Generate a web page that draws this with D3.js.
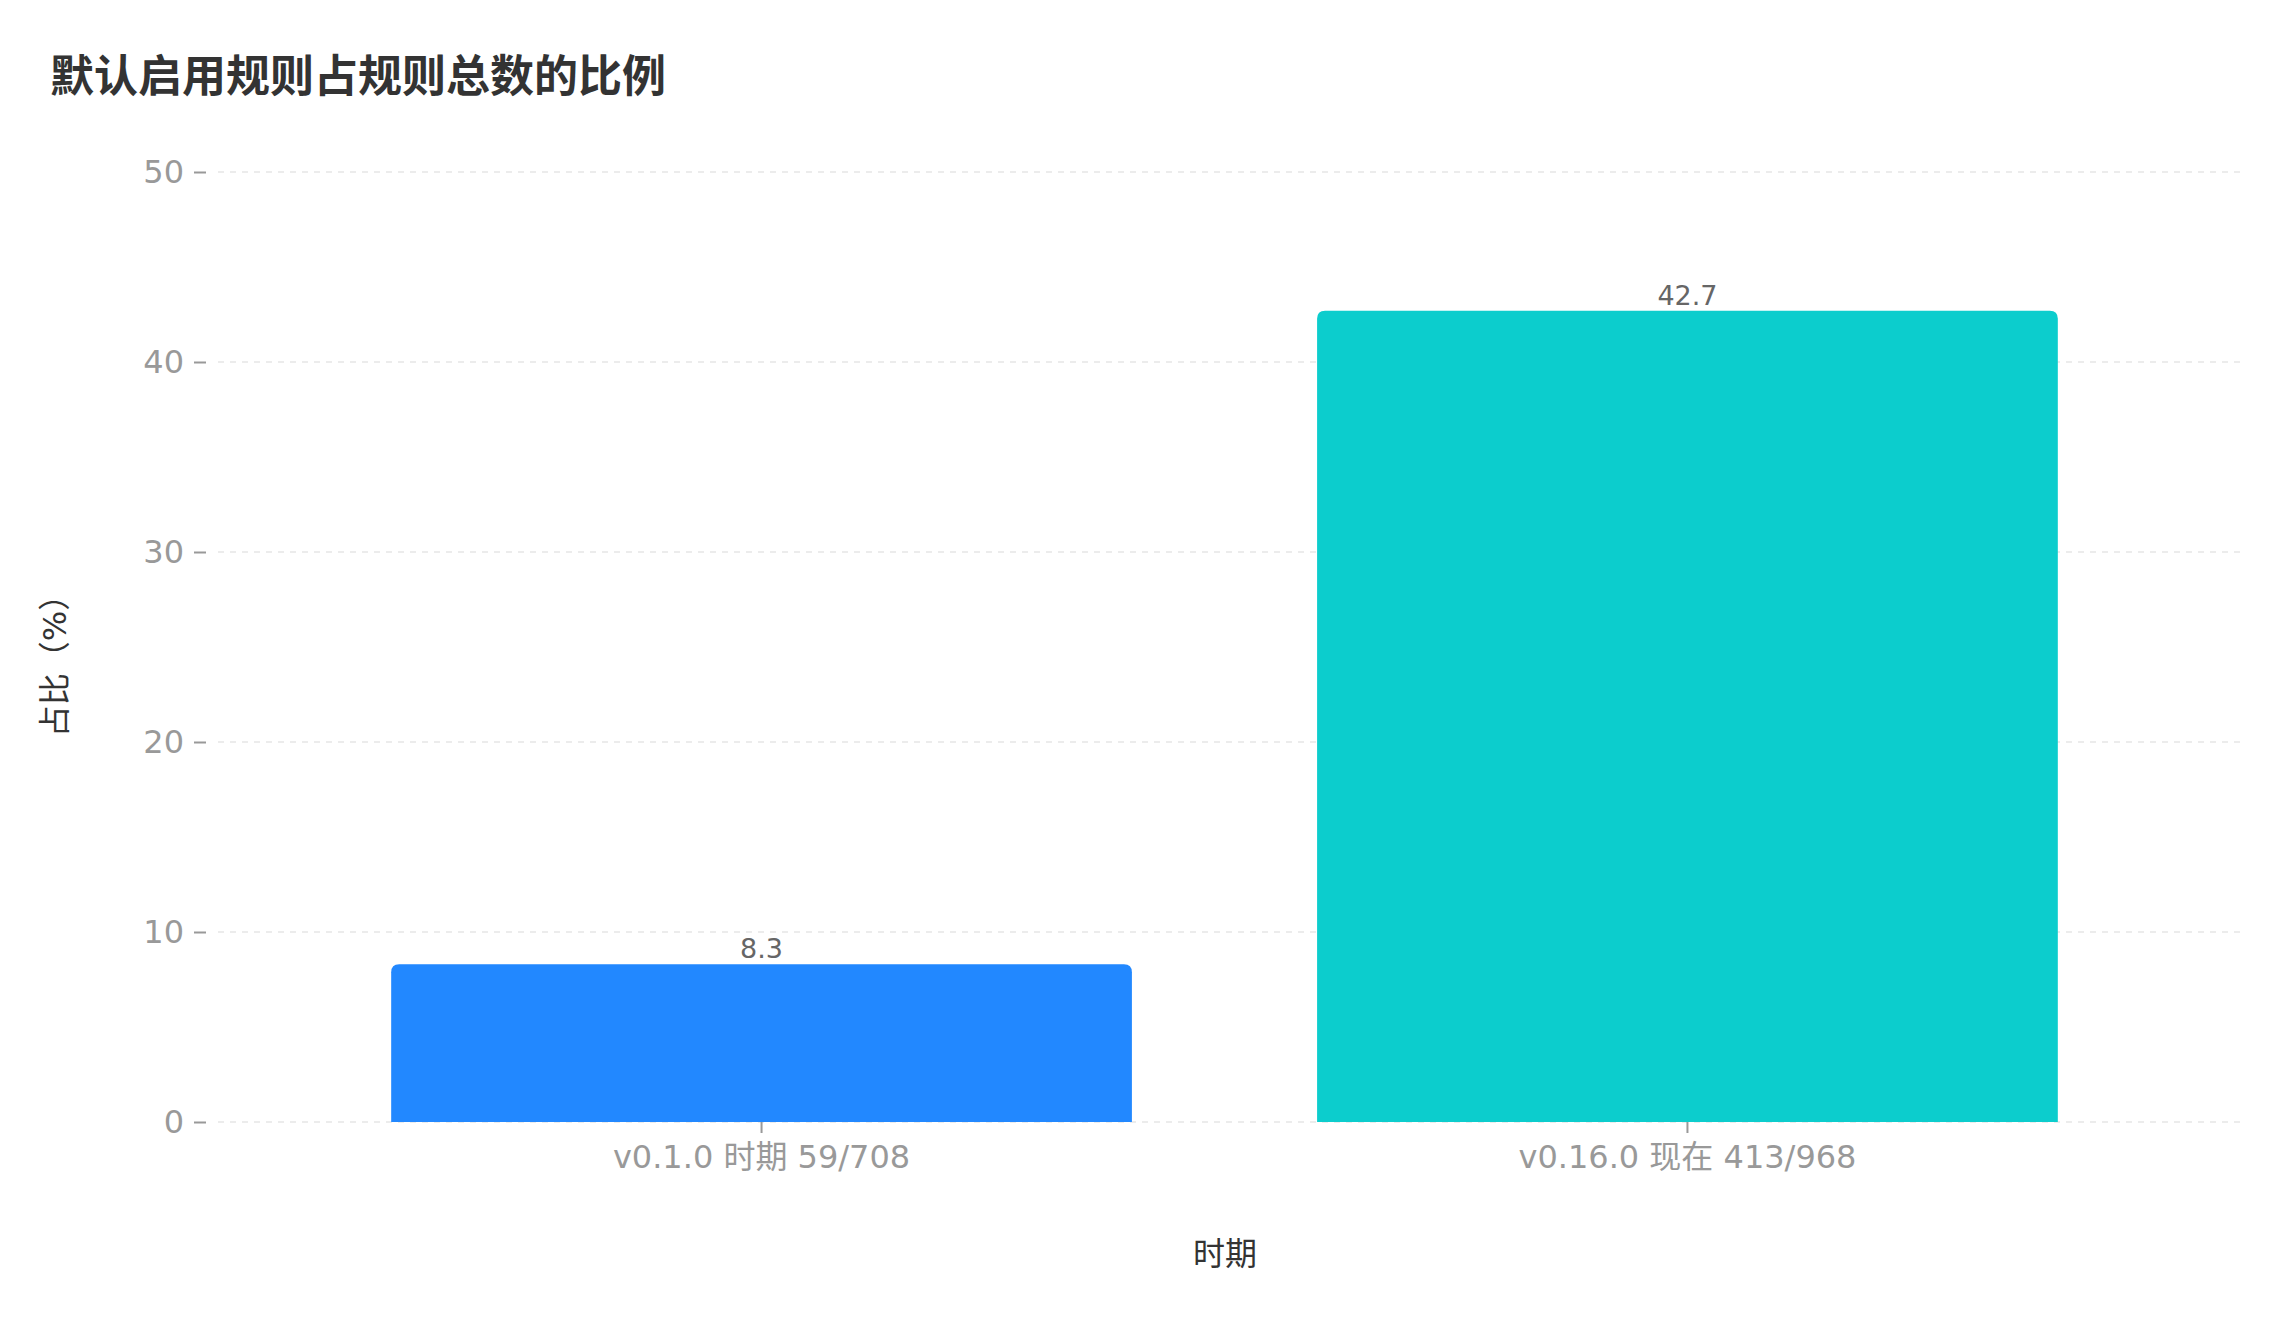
<!DOCTYPE html>
<html><head><meta charset="utf-8">
<script src="https://cdn.jsdelivr.net/npm/d3@7"></script>
<style>body{margin:0;background:#fff}text{font-family:"DejaVu Sans","Noto Sans CJK SC",sans-serif}</style>
</head><body><div id="chart"></div>
<script>
const categories = ['v0.1.0 时期 59/708', 'v0.16.0 现在 413/968'];
const values = [8.3, 42.7];
const colors = ['#2288ff', '#0ccdcd'];
const yTicks = [0, 10, 20, 30, 40, 50];

const W = 2280, H = 1320;
const margin = {left: 206, right: 37, top: 172, bottom: 198};
const svg = d3.select('#chart').append('svg').attr('width', W).attr('height', H);

const x = d3.scaleBand().domain(categories).range([margin.left, W - margin.right]).paddingInner(0.2).paddingOuter(0.2);
const y = d3.scaleLinear().domain([0, 50]).range([H - margin.bottom, margin.top]);

svg.append('text').attr('x', 50).attr('y', 92).attr('font-size', 44).attr('font-weight', 'bold')
  .attr('fill', '#333').text('默认启用规则占规则总数的比例');

// grid
svg.append('g').selectAll('line').data(yTicks).join('line')
  .attr('x1', margin.left + 12).attr('x2', W - margin.right)
  .attr('y1', d => y(d)).attr('y2', d => y(d))
  .attr('stroke', '#e6e6e6').attr('stroke-width', 1.5).attr('stroke-dasharray', '6,6');

const ya = svg.append('g').attr('transform', `translate(${margin.left},0)`)
  .call(d3.axisLeft(y).tickValues(yTicks).tickSize(12).tickPadding(10));
ya.select('.domain').remove();
ya.selectAll('line').attr('stroke', '#999').attr('stroke-width', 2);
ya.selectAll('text').attr('font-size', 32).attr('fill', '#999');

const r = 8;
svg.append('g').selectAll('path').data(values).join('path')
  .attr('fill', (d, i) => colors[i])
  .attr('d', (d, i) => {
    const x0 = x(categories[i]), x1 = x0 + x.bandwidth(), y0 = y(0), y1 = y(d);
    return `M${x0},${y0}V${y1 + r}Q${x0},${y1} ${x0 + r},${y1}H${x1 - r}Q${x1},${y1} ${x1},${y1 + r}V${y0}Z`;
  });

svg.append('g').selectAll('text').data(values).join('text')
  .attr('x', (d, i) => x(categories[i]) + x.bandwidth() / 2).attr('y', d => y(d) - 6)
  .attr('text-anchor', 'middle').attr('font-size', 27).attr('fill', '#666').text(d => d);

const xa = svg.append('g').attr('transform', `translate(0,${y(0)})`)
  .call(d3.axisBottom(x).tickSize(11).tickPadding(12));
xa.select('.domain').remove();
xa.selectAll('line').attr('stroke', '#999').attr('stroke-width', 2);
xa.selectAll('text').attr('font-size', 32).attr('fill', '#999');

svg.append('text').attr('x', 1225).attr('y', 1265).attr('text-anchor', 'middle')
  .attr('font-size', 32).attr('fill', '#333').text('时期');
svg.append('text').attr('transform', 'translate(66,658) rotate(-90)').attr('text-anchor', 'middle')
  .attr('font-size', 32).attr('fill', '#333').text('占比（%）');
</script></body></html>
